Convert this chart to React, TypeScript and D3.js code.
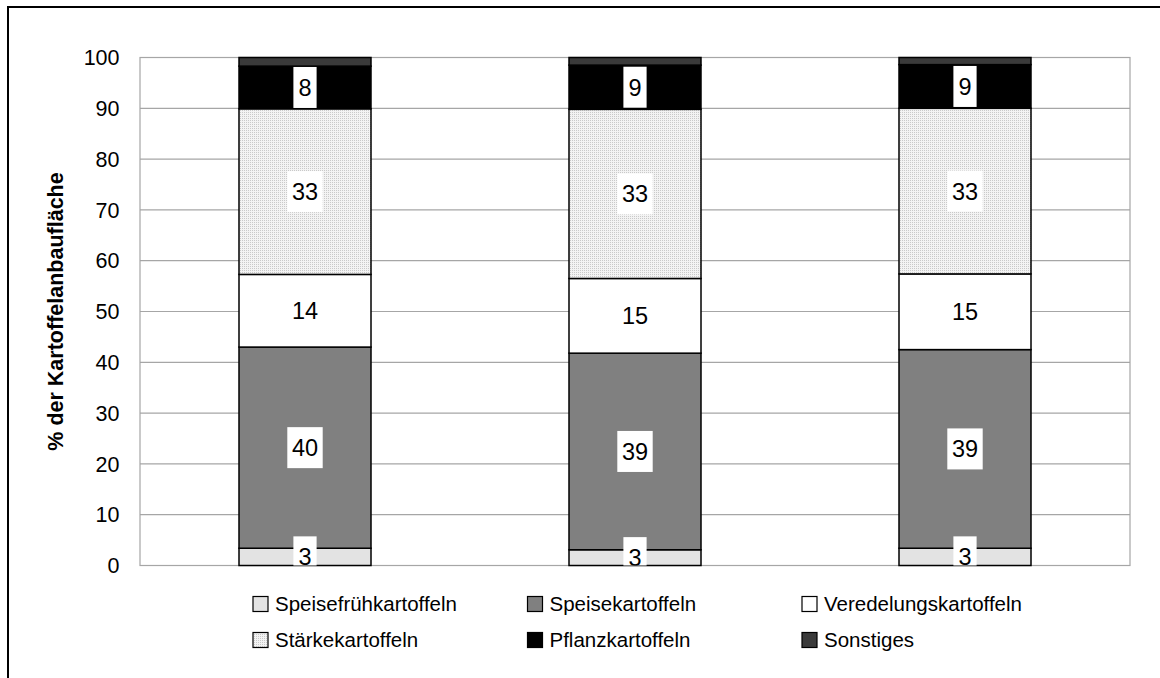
import React from "react";
import * as d3 from "d3";

// Anteile der Kartoffelanbaufläche je Säule (in %)
const categories = ["Säule 1", "Säule 2", "Säule 3"];
const seriesNames = [
  "Speisefrühkartoffeln",
  "Speisekartoffeln",
  "Veredelungskartoffeln",
  "Stärkekartoffeln",
  "Pflanzkartoffeln",
  "Sonstiges",
];
const speisefrueh = [3.4, 3.1, 3.4];
const speise = [39.6, 38.7, 39.1];
const veredelung = [14.3, 14.7, 14.9];
const staerke = [32.6, 33.3, 32.6];
const pflanz = [8.4, 8.7, 8.6];
const sonstiges = [1.7, 1.5, 1.4];
const yTicks = [0, 10, 20, 30, 40, 50, 60, 70, 80, 90, 100];
const labelledSeries = [
  "Speisefrühkartoffeln",
  "Speisekartoffeln",
  "Veredelungskartoffeln",
  "Stärkekartoffeln",
  "Pflanzkartoffeln",
];

const W = 1160;
const H = 678;
const FONT = "'Liberation Sans', Arial, Helvetica, sans-serif";

const fills: Record<string, string> = {
  Speisefrühkartoffeln: "#e3e3e3",
  Speisekartoffeln: "#808080",
  Veredelungskartoffeln: "#ffffff",
  Stärkekartoffeln: "url(#dots)",
  Pflanzkartoffeln: "#000000",
  Sonstiges: "#3a3a3a",
};

export default function App() {
  const rows = categories.map((c, i) => ({
    cat: c,
    Speisefrühkartoffeln: speisefrueh[i],
    Speisekartoffeln: speise[i],
    Veredelungskartoffeln: veredelung[i],
    Stärkekartoffeln: staerke[i],
    Pflanzkartoffeln: pflanz[i],
    Sonstiges: sonstiges[i],
  }));
  const stacked = d3.stack<any>().keys(seriesNames)(rows);

  const left = 140;
  const right = 1130;
  const y = d3.scaleLinear().domain([0, 100]).range([565.5, 57.5]);
  const x = d3
    .scaleBand<string>()
    .domain(categories)
    .range([left, right])
    .paddingInner(0.6)
    .paddingOuter(0.3);

  const legendCols = [253, 527.5, 802];
  const legendRows = [604, 640];

  return (
    <svg
      width={W}
      height={H}
      style={{ position: "absolute", left: 0, top: 0, background: "#fff" }}
      fontFamily={FONT}
    >
      <defs>
        <pattern id="dots" width="2" height="2" patternUnits="userSpaceOnUse">
          <rect width="2" height="2" fill="#f3f3f3" />
          <rect width="1" height="1" fill="#c9c9c9" />
        </pattern>
        <clipPath id="plotClip">
          <rect x={left} y={y(100)} width={right - left} height={y(0) - y(100)} />
        </clipPath>
      </defs>

      <rect x={0} y={0} width={W} height={H} fill="#fff" />
      {/* äußerer Diagrammrahmen */}
      <rect x={8} y={7} width={W + 20} height={H + 20} fill="none" stroke="#000" strokeWidth={2} />

      {/* Gitternetz */}
      {yTicks.map((t) => (
        <line key={t} x1={left} x2={right} y1={y(t)} y2={y(t)} stroke="#a6a6a6" strokeWidth={1.2} />
      ))}
      <rect
        x={left}
        y={y(100)}
        width={right - left}
        height={y(0) - y(100)}
        fill="none"
        stroke="#a6a6a6"
        strokeWidth={1.2}
      />

      {/* Achsenbeschriftung */}
      {yTicks.map((t) => (
        <text key={t} x={119.5} y={y(t)} dy="0.36em" textAnchor="end" fontSize={21.5} fill="#000">
          {t}
        </text>
      ))}
      <text
        transform={`translate(63, ${(y(0) + y(100)) / 2}) rotate(-90)`}
        textAnchor="middle"
        fontSize={21.5}
        fontWeight="bold"
        fill="#000"
      >
        % der Kartoffelanbaufläche
      </text>

      {/* gestapelte Säulen */}
      {stacked.map((s) => (
        <g key={s.key}>
          {s.map((d, i) => (
            <rect
              key={i}
              x={x(categories[i])}
              y={y(d[1])}
              width={x.bandwidth()}
              height={y(d[0]) - y(d[1])}
              fill={fills[s.key]}
              stroke="#000"
              strokeWidth={1.5}
            />
          ))}
        </g>
      ))}

      {/* Datenbeschriftungen */}
      <g clipPath="url(#plotClip)">
        {stacked
          .filter((s) => labelledSeries.includes(s.key))
          .map((s) =>
            s.map((d, i) => {
              const v = d[1] - d[0];
              const txt = String(Math.round(v));
              const cx = (x(categories[i]) as number) + x.bandwidth() / 2;
              const cy = y((d[0] + d[1]) / 2);
              const bw = txt.length * 12.2 + 11;
              const bh = 41;
              return (
                <g key={s.key + i}>
                  <rect x={cx - bw / 2} y={cy - bh / 2} width={bw} height={bh} fill="#fff" />
                  <text x={cx} y={cy} dy="0.36em" textAnchor="middle" fontSize={23.5} fill="#000">
                    {txt}
                  </text>
                </g>
              );
            })
          )}
      </g>

      {/* Legende */}
      {seriesNames.map((name, k) => {
        const lx = legendCols[k % 3];
        const ly = legendRows[Math.floor(k / 3)];
        return (
          <g key={name}>
            <rect x={lx} y={ly - 7.5} width={15} height={15} fill={fills[name]} stroke="#000" strokeWidth={1.2} />
            <text x={lx + 22} y={ly} dy="0.36em" fontSize={20.5} fill="#000">
              {name}
            </text>
          </g>
        );
      })}
    </svg>
  );
}
